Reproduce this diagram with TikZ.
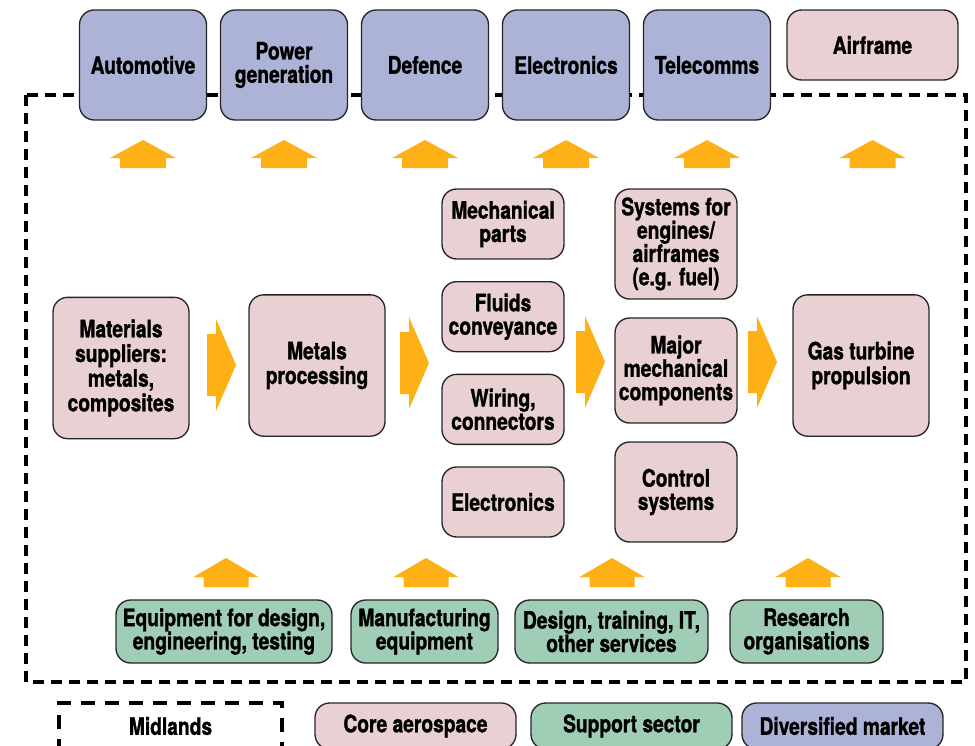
\documentclass[tikz,border=0pt]{standalone}
\usepackage{fontspec}
\setmainfont{TeX Gyre Heros}[FakeStretch=0.8,BoldFeatures={FakeBold=1.2}]
\usetikzlibrary{positioning}
\definecolor{diverse}{RGB}{173,179,214}
\definecolor{core}{RGB}{233,208,211}
\definecolor{support}{RGB}{159,205,181}
\definecolor{flow}{RGB}{253,177,23}
\tikzset{sector/.style={draw=black!85,line width=1pt,rounded corners=11pt,align=center,inner sep=2pt,
           font=\bfseries\fontsize{18}{17.5}\selectfont},
         corebox/.style={sector,fill=core,minimum width=102pt,minimum height=106pt,
           font=\bfseries\fontsize{18}{18.5}\selectfont},
         partbox/.style={sector,fill=core,minimum width=91.5pt,minimum height=52.5pt},
         marketbox/.style={sector,fill=diverse,minimum width=95.25pt,minimum height=82.5pt},
         supportbox/.style={sector,fill=support,minimum height=47.25pt},
         legendbox/.style={sector,minimum width=150.75pt,minimum height=34.5pt},
         region/.style={line width=3.4pt,dash pattern=on 8.25pt off 5.25pt}
}

\begin{document}
\begin{tikzpicture}[x=0.75pt,y=-0.75pt]
\useasboundingbox (0,0) rectangle (975,746);

% Midlands border
\draw[region] (26,95) rectangle (966,682);

% markets on top
\node[marketbox] (auto) at (143,65) {Automotive};
\node[marketbox,right=9.5pt of auto] (power) {Power\\generation};
\node[marketbox,right=9.5pt of power] (defence) {Defence};
\node[marketbox,right=9.5pt of defence] (electr) {Electronics};
\node[marketbox,right=9.5pt of electr] (telecom) {Telecomms};
\node[sector,fill=core,minimum width=128.25pt,minimum height=52.5pt] (airframe) at (872.5,45) {Airframe};

\foreach \x in {143,284,425,566,707,872.5}
  \fill[flow] (\x,140) -- (\x+33,158) -- (\x+23,158) -- (\x+23,168) -- (\x-23,168) -- (\x-23,158) -- (\x-33,158) -- cycle;

% supply chain
\node[corebox] (materials) at (121,368) {Materials\\suppliers:\\metals,\\composites};
\node[corebox] (metals) at (317,365.5) {Metals\\processing};
\node[partbox] (mech) at (503,224) {Mechanical\\parts};
\node[partbox,below=16pt of mech] (fluids) {Fluids\\conveyance};
\node[partbox,below=16pt of fluids] (wiring) {Wiring,\\connectors};
\node[partbox,below=16pt of wiring] (elec) {Electronics};
\node[partbox,minimum height=82.5pt] (systems) at (676,244) {Systems for\\engines/\\airframes\\(e.g. fuel)};
\node[partbox,minimum height=78.75pt,below=13.25pt of systems] (major) {Major\\mechanical\\components};
\node[partbox,minimum height=75pt,below=13.25pt of major] (control) {Control\\systems};
\node[corebox] (turbine) at (861,365.5) {Gas turbine\\propulsion};

\foreach \x/\y in {207/365,400/363,576/362,748/362}
  \fill[flow] (\x,\y-31) -- (\x+9,\y-31) -- (\x+9,\y-46) -- (\x+29,\y) -- (\x+9,\y+46) -- (\x+9,\y+31) -- (\x,\y+31) -- cycle;

% support sector
\node[supportbox,minimum width=162pt] (equip) at (224,631.5) {Equipment for design,\\engineering, testing};
\node[supportbox,minimum width=110.25pt] (manuf) at (424.5,631.5) {Manufacturing\\equipment};
\node[supportbox,minimum width=144.75pt] (design) at (611.5,631.5) {Design, training, IT,\\other services};
\node[supportbox,minimum width=114.75pt] (research) at (806.5,631.5) {Research\\organisations};

\foreach \x in {226,426,612,808}
  \fill[flow] (\x,558) -- (\x+32.5,577) -- (\x+22.5,577) -- (\x+22.5,587) -- (\x-22.5,587) -- (\x-22.5,577) -- (\x-32.5,577) -- cycle;

% legend
\node[legendbox,draw=black,line width=3pt,dash pattern=on 10.5pt off 7.5pt,rounded corners=0pt,minimum width=167.25pt] (midlands) at (170.5,726) {Midlands};
\node[legendbox,fill=core] (corekey) at (415.5,726) {Core aerospace};
\node[legendbox,fill=support] (supportkey) at (631.5,726) {Support sector};
\node[legendbox,fill=diverse] (marketkey) at (842.5,726) {Diversified market};

\end{tikzpicture}
\end{document}
